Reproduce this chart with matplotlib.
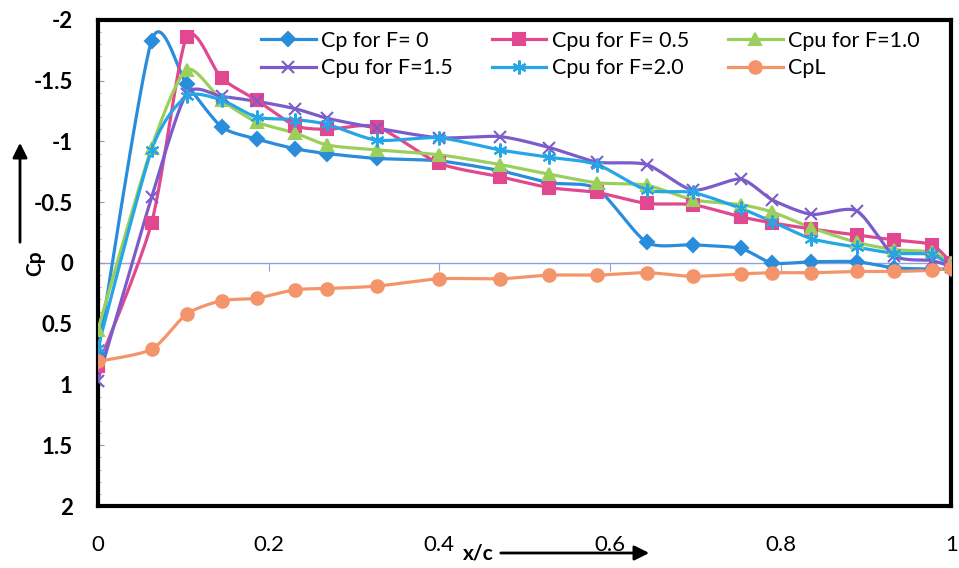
import numpy as np
import matplotlib.pyplot as plt
from matplotlib.lines import Line2D
from matplotlib.ticker import NullFormatter

plt.rcParams['font.family'] = ['Lato', 'DejaVu Sans']
plt.rcParams['axes.unicode_minus'] = False

# positions x/c des prises de pression
x_c = [0, 0.063, 0.104, 0.145, 0.186, 0.231, 0.269, 0.327, 0.40, 0.471, 0.529,
       0.585, 0.643, 0.697, 0.753, 0.79, 0.836, 0.889, 0.933, 0.977, 1.0]

cp_f00 = [0.75, -1.83, -1.47, -1.12, -1.02, -0.94, -0.90, -0.86, -0.84, -0.76, -0.66,
          -0.61, -0.17, -0.15, -0.12, 0.0, -0.01, -0.01, 0.04, 0.05, 0.05]
cpu_f05 = [0.85, -0.33, -1.86, -1.52, -1.34, -1.13, -1.10, -1.12, -0.82, -0.71, -0.62,
           -0.58, -0.49, -0.48, -0.38, -0.33, -0.28, -0.23, -0.19, -0.15, 0.0]
cpu_f10 = [0.55, -0.95, -1.59, -1.34, -1.16, -1.07, -0.97, -0.93, -0.89, -0.81, -0.73,
           -0.66, -0.64, -0.52, -0.48, -0.42, -0.29, -0.17, -0.11, -0.09, 0.0]
cpu_f15 = [0.97, -0.54, -1.39, -1.37, -1.33, -1.27, -1.19, -1.11, -1.03, -1.04, -0.95,
           -0.83, -0.81, -0.60, -0.69, -0.52, -0.40, -0.43, -0.06, -0.02, 0.03]
cpu_f20 = [0.70, -0.93, -1.37, -1.34, -1.20, -1.18, -1.14, -1.01, -1.03, -0.93, -0.87,
           -0.81, -0.60, -0.58, -0.45, -0.34, -0.20, -0.13, -0.08, -0.07, 0.03]
cpl = [0.81, 0.71, 0.42, 0.31, 0.29, 0.22, 0.21, 0.19, 0.13, 0.13, 0.10,
       0.10, 0.08, 0.11, 0.09, 0.08, 0.08, 0.07, 0.07, 0.06, 0.04]

y_ticks = [-2, -1.5, -1, -0.5, 0, 0.5, 1, 1.5, 2]
x_ticks = [0, 0.2, 0.4, 0.6, 0.8, 1]


# lissage type Excel (spline cardinale)
def lisser(x, y, n=16, c=0.36):
    p = np.column_stack([x, y]).astype(float)
    p = np.vstack([p[0], p, p[-1]])
    t = np.linspace(0, 1, n)[:, None]
    h00 = 2 * t ** 3 - 3 * t ** 2 + 1
    h10 = t ** 3 - 2 * t ** 2 + t
    h01 = -2 * t ** 3 + 3 * t ** 2
    h11 = t ** 3 - t ** 2
    segs = []
    for i in range(1, len(p) - 2):
        p0, p1, p2, p3 = p[i - 1], p[i], p[i + 1], p[i + 2]
        m1 = c * (p2 - p0)
        m2 = c * (p3 - p1)
        s = h00 * p1 + h10 * m1 + h01 * p2 + h11 * m2
        segs.append(s if i == 1 else s[1:])
    s = np.vstack(segs)
    return s[:, 0], s[:, 1]


series = [
    (cp_f00, '#2a8ddc', 'D', 7, 'Cp for F= 0'),
    (cpu_f05, '#e2488f', 's', 9, 'Cpu for F= 0.5'),
    (cpu_f10, '#9bcf5c', '^', 8, 'Cpu for F=1.0'),
    (cpu_f15, '#7c5cca', 'x', 9, 'Cpu for F=1.5'),
    (cpu_f20, '#25a6e6', (6, 2, 0), 10, 'Cpu for F=2.0'),
    (cpl, '#f4946a', 'o', 9, 'CpL'),
]

fig = plt.figure(figsize=(9.59, 5.68), dpi=100)
ax = fig.add_axes([0.102, 0.109, 0.890, 0.856])

handles = {}
for y, col, mk, ms, lab in series:
    xs, ys = lisser(x_c, y)
    ax.plot(xs, ys, color=col, lw=2.3, zorder=3)
    ax.plot(x_c, y, ls='none', marker=mk, ms=ms, color=col, mec=col, mew=1.5, zorder=4)
    handles[lab] = Line2D([], [], color=col, lw=2.3, marker=mk, ms=ms, mec=col, mew=1.5)

ax.set_xlim(0, 1)
ax.set_ylim(2, -2)

ax.set_yticks(y_ticks)
ax.set_yticklabels(['%g' % v for v in y_ticks], fontsize=16, fontweight='bold')
ax.set_yticks(np.arange(-2, 2.01, 0.1), minor=True)
ax.tick_params(axis='y', which='major', direction='in', length=4, pad=18, color='#999999')
ax.tick_params(axis='y', which='minor', direction='in', length=2, color='#999999')

ax.set_xticks(x_ticks)
ax.set_xticklabels(['%g' % v for v in x_ticks], fontsize=16)
ax.tick_params(axis='x', length=0, pad=21)

for sp in ax.spines.values():
    sp.set_linewidth(3)
    sp.set_color('black')

# axe horizontal en Cp = 0
sec = ax.secondary_xaxis(0.5)
for s in ('top', 'bottom'):
    sec.spines[s].set_color('#8fa3d8')
    sec.spines[s].set_linewidth(1)
sec.set_xticks(x_ticks[1:-1])
sec.xaxis.set_major_formatter(NullFormatter())
sec.tick_params(axis='x', direction='in', length=6, color='#8fa3d8')

order = ['Cp for F= 0', 'Cpu for F=1.5', 'Cpu for F= 0.5',
         'Cpu for F=2.0', 'Cpu for F=1.0', 'CpL']
ax.legend([handles[k] for k in order], order, ncol=3, loc='upper left',
          bbox_to_anchor=(250 / 959, 1 - 20 / 568), bbox_transform=fig.transFigure,
          frameon=False, fontsize=15.5, handlelength=2.55, handletextpad=0.25,
          columnspacing=1.8, labelspacing=0.35, borderpad=0)

# étiquettes d'axes avec flèches
fig.text(35 / 959, 1 - 263 / 568, 'Cp', rotation=90, fontsize=15, fontweight='bold',
         ha='center', va='center')
ax.annotate('', xy=(20 / 959, 1 - 140 / 568), xytext=(20 / 959, 1 - 245 / 568),
            xycoords='figure fraction', textcoords='figure fraction',
            arrowprops=dict(arrowstyle='-|>', color='black', lw=2, mutation_scale=22))
fig.text(478 / 959, 1 - 554 / 568, 'x/c', fontsize=15, fontweight='bold',
         ha='center', va='center')
ax.annotate('', xy=(652 / 959, 1 - 553 / 568), xytext=(498 / 959, 1 - 553 / 568),
            xycoords='figure fraction', textcoords='figure fraction',
            arrowprops=dict(arrowstyle='-|>', color='black', lw=2, mutation_scale=22))

fig.savefig('out.png', dpi=100)
